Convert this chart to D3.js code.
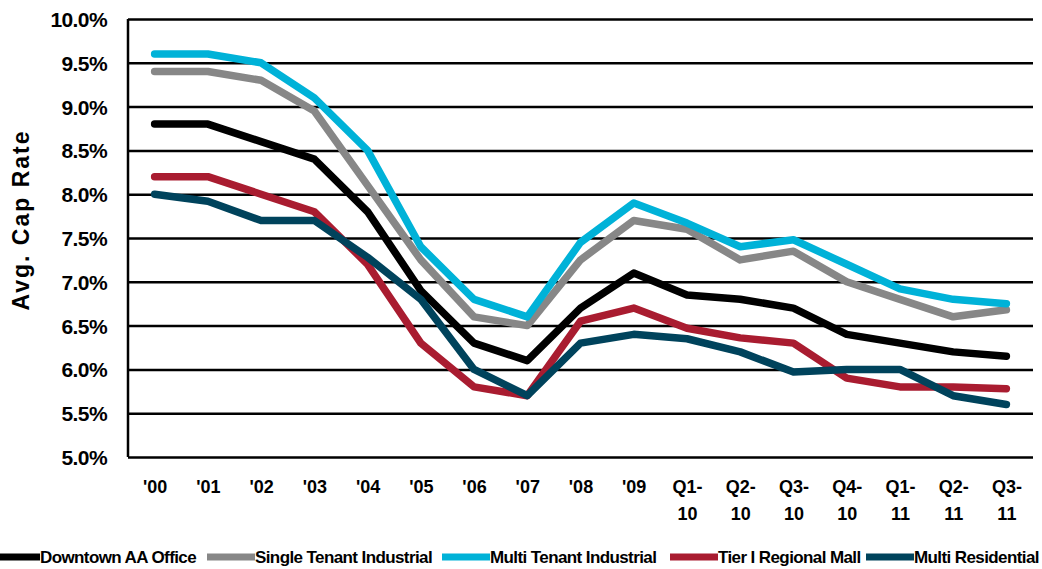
<!DOCTYPE html>
<html>
<head>
<meta charset="utf-8">
<script src="https://cdn.jsdelivr.net/npm/d3@7"></script>
<style>
  body { margin: 0; background: #fff; }
  text { font-family: "Liberation Sans", Arial, sans-serif; font-weight: bold; fill: #000; }
</style>
</head>
<body>
<div id="chart"></div>
<script>
const periods = ["'00", "'01", "'02", "'03", "'04", "'05", "'06", "'07", "'08", "'09",
                 "Q1-10", "Q2-10", "Q3-10", "Q4-10", "Q1-11", "Q2-11", "Q3-11"];

const downtownOffice   = [8.8, 8.8, 8.6, 8.4, 7.8, 6.9, 6.3, 6.1, 6.7, 7.1, 6.85, 6.8, 6.7, 6.4, 6.3, 6.2, 6.15];
const singleTenantInd  = [9.4, 9.4, 9.3, 8.95, 8.1, 7.25, 6.6, 6.5, 7.25, 7.7, 7.6, 7.25, 7.35, 7.0, 6.8, 6.6, 6.68];
const multiTenantInd   = [9.6, 9.6, 9.5, 9.1, 8.5, 7.4, 6.8, 6.6, 7.45, 7.9, 7.67, 7.4, 7.48, 7.2, 6.92, 6.8, 6.75];
const regionalMall     = [8.2, 8.2, 8.0, 7.8, 7.2, 6.3, 5.8, 5.7, 6.55, 6.7, 6.47, 6.36, 6.3, 5.9, 5.8, 5.8, 5.78];
const multiResidential = [8.0, 7.92, 7.7, 7.7, 7.28, 6.8, 6.0, 5.7, 6.3, 6.4, 6.35, 6.2, 5.97, 6.0, 6.0, 5.7, 5.6];

const yTicks = [5.0, 5.5, 6.0, 6.5, 7.0, 7.5, 8.0, 8.5, 9.0, 9.5, 10.0];

const series = [
  {name: "Downtown AA Office",       values: downtownOffice,   color: "#000000"},
  {name: "Single Tenant Industrial", values: singleTenantInd,  color: "#878787"},
  {name: "Multi Tenant Industrial",  values: multiTenantInd,   color: "#00b2d8"},
  {name: "Tier I Regional Mall",     values: regionalMall,     color: "#a91c30"},
  {name: "Multi Residential",        values: multiResidential, color: "#00435c"}
];

const W = 1042, H = 569;
const margin = {top: 19, right: 9, bottom: 112, left: 128};
const width = W - margin.left - margin.right,
      height = H - margin.top - margin.bottom;

const svg = d3.select("#chart").append("svg")
    .attr("width", W)
    .attr("height", H);

const g = svg.append("g")
    .attr("transform", `translate(${margin.left},${margin.top})`);

const x = d3.scalePoint()
    .domain(periods)
    .range([0, width])
    .padding(0.5);

const y = d3.scaleLinear()
    .domain([5, 10])
    .range([height, 0]);

// gridlines + y labels
const yAxis = g.append("g")
    .call(d3.axisLeft(y).tickValues(yTicks).tickSize(-width).tickFormat(d => d.toFixed(1) + "%"));
yAxis.select(".domain").remove();
yAxis.selectAll(".tick line").attr("stroke", "#000").attr("stroke-width", 2.5);
yAxis.selectAll(".tick text")
    .attr("x", -21)
    .attr("dy", "0.36em")
    .style("font-size", "21px")
    .style("letter-spacing", "-0.6px");

// left axis line
g.append("line")
    .attr("x1", 0).attr("x2", 0)
    .attr("y1", 0).attr("y2", height)
    .attr("stroke", "#000").attr("stroke-width", 2.5);

// x labels (wrapped)
const xAxis = g.append("g")
    .attr("transform", `translate(0,${height})`)
    .call(d3.axisBottom(x).tickSize(0).tickFormat(""));
xAxis.select(".domain").remove();
xAxis.selectAll(".tick").each(function(d) {
  const parts = d.startsWith("Q") ? [d.slice(0, 3), d.slice(3)] : [d];
  const t = d3.select(this).append("text")
      .attr("text-anchor", "middle")
      .style("font-size", "18px");
  parts.forEach((p, i) => {
    t.append("tspan").attr("x", 0).attr("y", 36 + i * 27).text(p);
  });
});

// y title
svg.append("text")
    .attr("transform", "translate(29,220) rotate(-90)")
    .attr("text-anchor", "middle")
    .style("font-size", "23px")
    .style("letter-spacing", "2px")
    .text("Avg. Cap Rate");

// lines
const line = d3.line()
    .x((d, i) => x(periods[i]))
    .y(d => y(d));

g.selectAll(".series")
    .data(series)
    .enter().append("path")
    .attr("class", "series")
    .attr("d", d => line(d.values))
    .attr("fill", "none")
    .attr("stroke", d => d.color)
    .attr("stroke-width", 7.5)
    .attr("stroke-linejoin", "round")
    .attr("stroke-linecap", "round");

// legend
const legendX = [-4, 207, 442, 670, 866];
const legend = svg.append("g")
    .attr("transform", "translate(0,557)");
series.forEach((s, i) => {
  const lg = legend.append("g").attr("transform", `translate(${legendX[i]},0)`);
  lg.append("line")
      .attr("x1", 0).attr("x2", i === 0 ? 44 : 48)
      .attr("y1", 0).attr("y2", 0)
      .attr("stroke", s.color).attr("stroke-width", 7);
  lg.append("text")
      .attr("x", i === 0 ? 44 : 48)
      .attr("dy", "0.36em")
      .style("font-size", "17px")
      .style("letter-spacing", "-0.6px")
      .text(s.name);
});
</script>
</body>
</html>
